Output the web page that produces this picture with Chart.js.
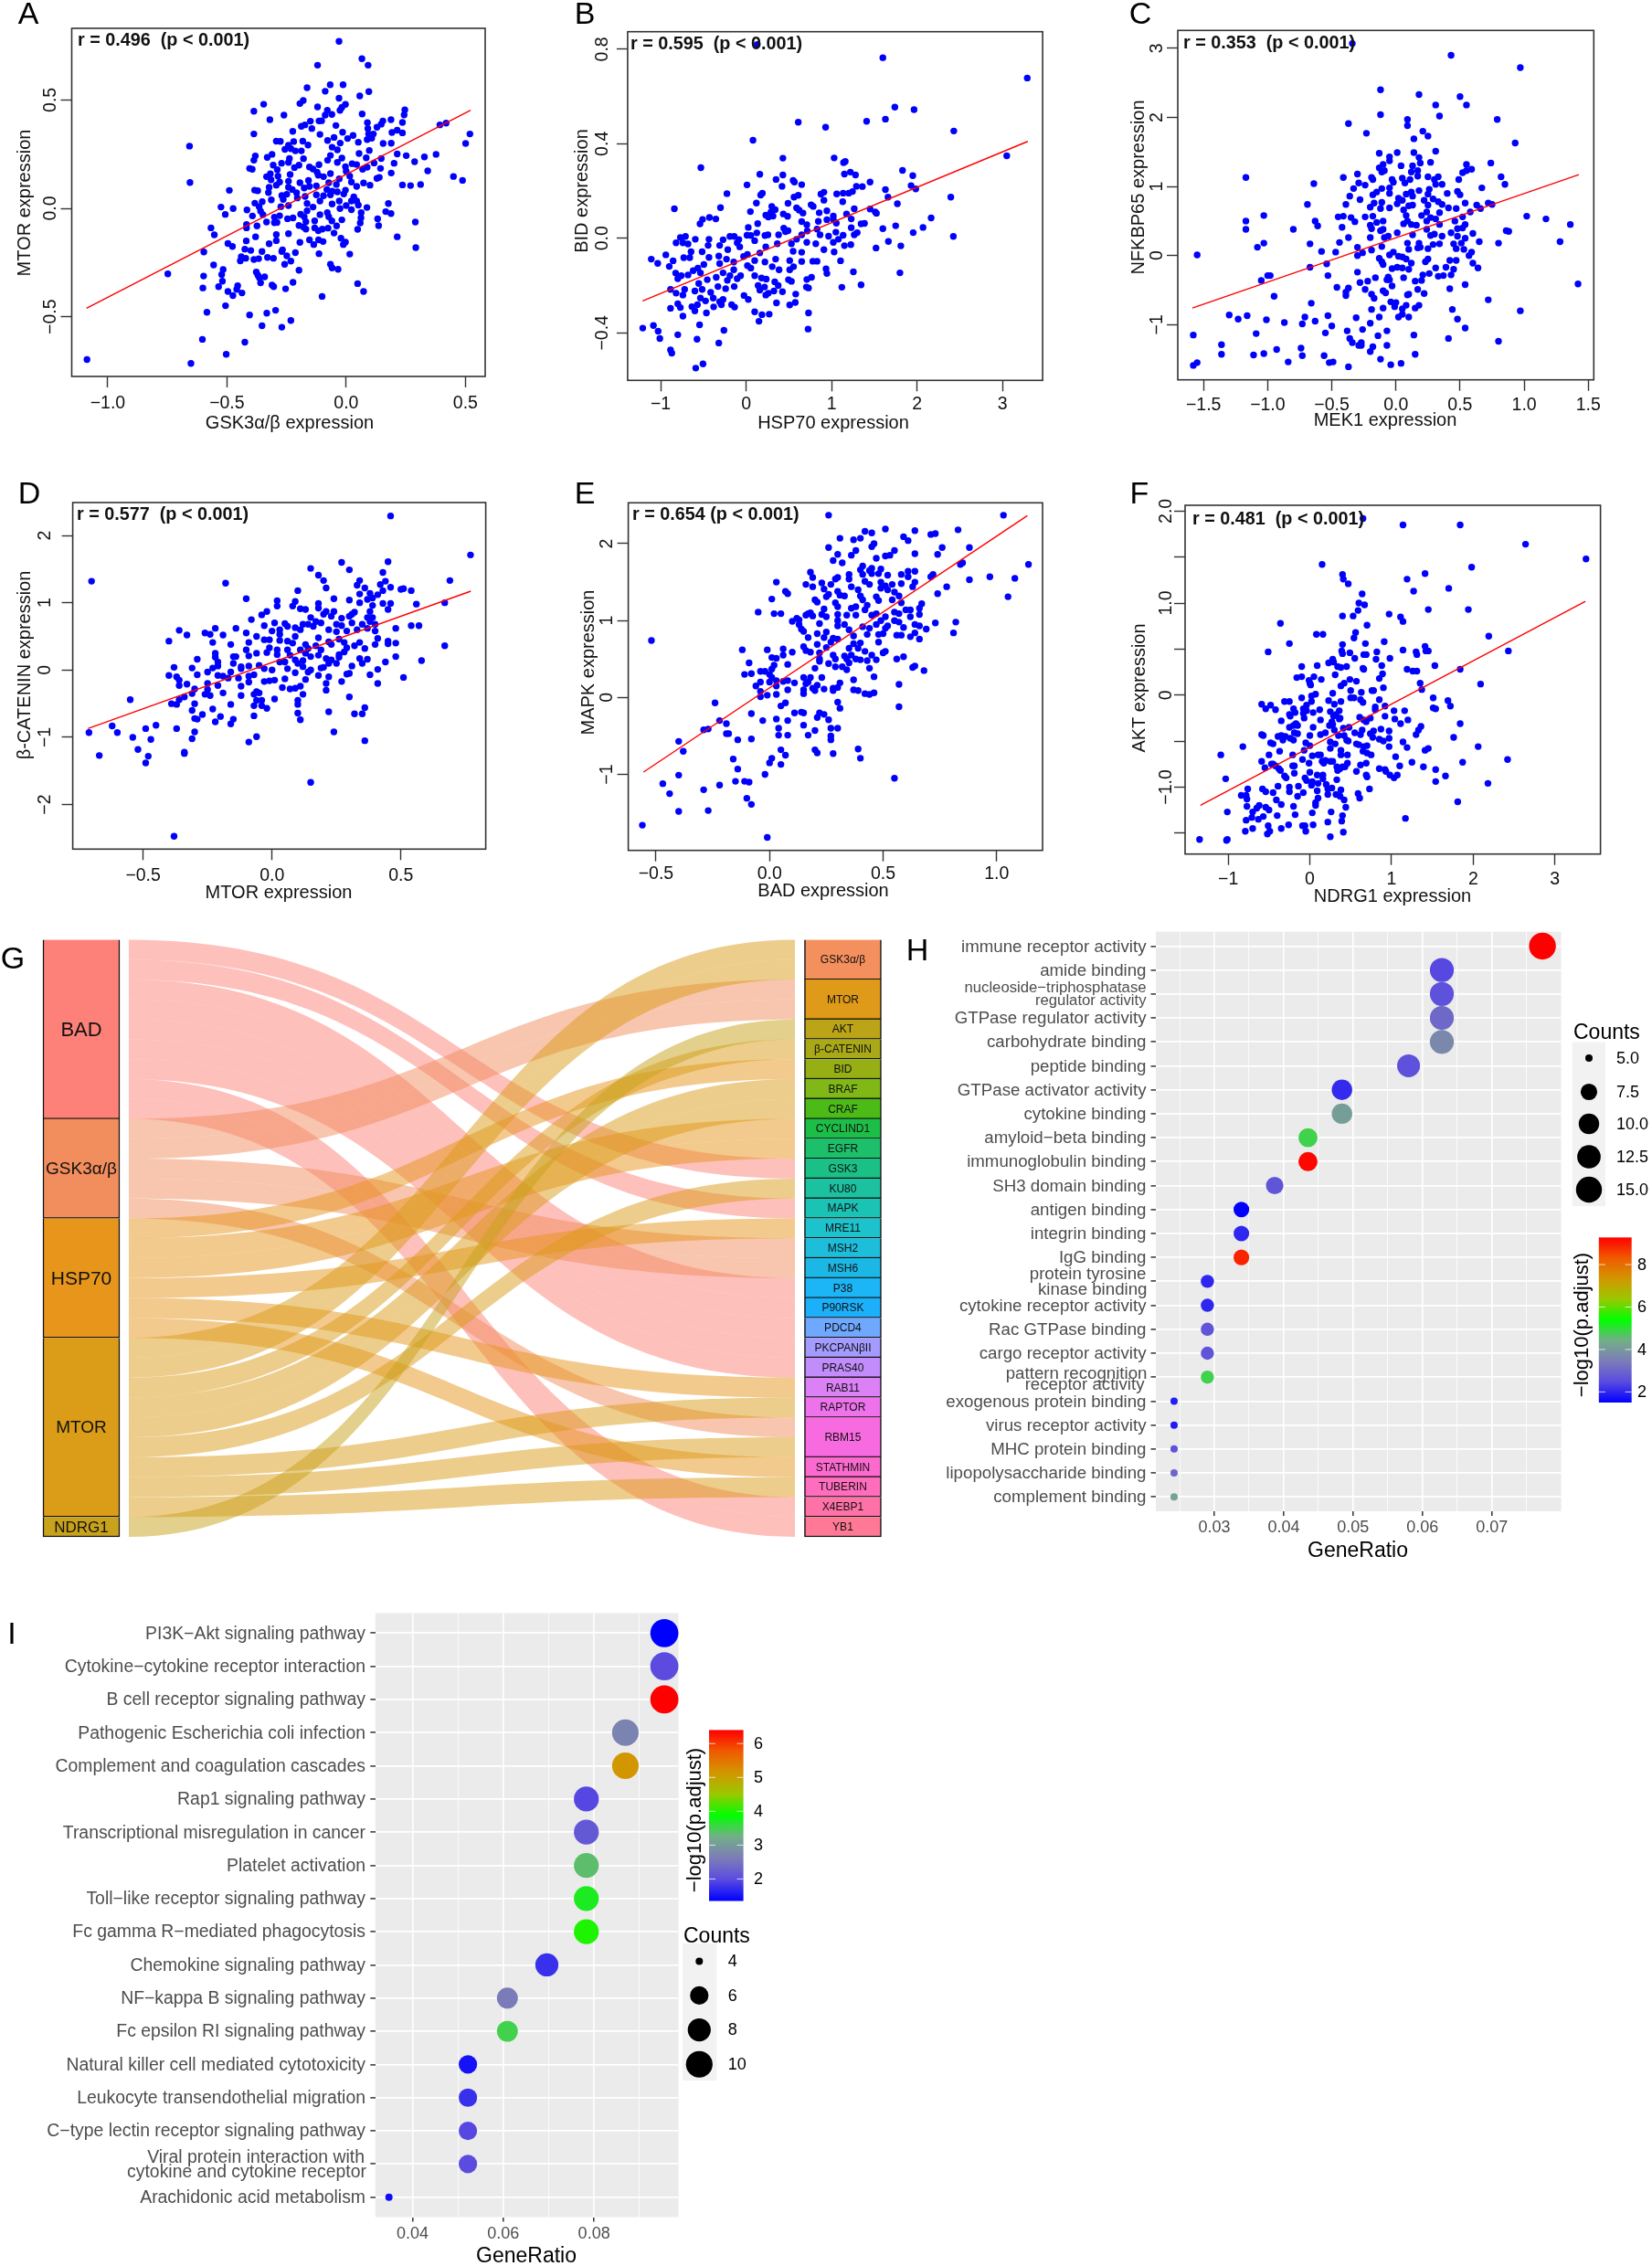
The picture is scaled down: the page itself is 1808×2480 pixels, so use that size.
<!DOCTYPE html>
<html>
<head>
<meta charset="utf-8">
<style>
html,body{margin:0;padding:0;background:#fff}
body{position:relative;width:1808px;height:2480px;overflow:hidden}
canvas{position:absolute}
</style>
<script src="https://cdn.jsdelivr.net/npm/chart.js@4"></script>
</head>
<body>
<script>
const pointsA = [[-.03,.77],[.066,.69],[.092,.66],[-.12,.66],[-.067,.57],[-.013,.57],[-.164,.556],[-.088,.54],[.095,.538],[.057,.518],[-.03,.508],[-.18,.497],[-.194,.483],[-.346,.48],[-.12,.468],[-.003,.479],[-.018,.466],[-.026,.452],[.246,.454],[.243,.431],[-.387,.448],[-.261,.43],[-.079,.452],[-.088,.43],[-.06,.433],[.067,.435],[-.32,.409],[-.15,.402],[-.114,.403],[-.103,.404],[.188,.409],[.154,.403],[.236,.396],[.089,.395],[.393,.385],[.419,.393],[-.188,.378],[-.173,.385],[-.144,.368],[-.043,.382],[.147,.388],[.129,.374],[.091,.368],[-.224,.355],[-.387,.343],[-.11,.341],[-.015,.351],[.519,.343],[.214,.36],[.192,.35],[.236,.348],[.094,.343],[.114,.343],[-.051,.327],[.029,.336],[.006,.322],[.107,.323],[.088,.317],[-.293,.31],[-.276,.309],[-.182,.31],[-.078,.313],[.051,.305],[.155,.299],[.189,.3],[.501,.299],[-.025,.301],[-.657,.287],[-.22,.308],[-.242,.291],[-.16,.292],[-.059,.282],[-.257,.272],[-.232,.275],[-.213,.265],[-.188,.265],[-.037,.27],[.097,.267],[.054,.253],[.214,.251],[.252,.243],[.328,.237],[.377,.249],[-.311,.249],[-.381,.242],[-.066,.244],[-.331,.235],[.084,.233],[.147,.23],[-.179,.229],[-.387,.222],[-.238,.23],[-.242,.212],[-.078,.222],[-.018,.232],[-.037,.212],[.117,.209],[.201,.208],[.287,.215],[.025,.206],[.044,.202],[-.271,.208],[-.306,.199],[-.114,.201],[-.217,.188],[-.198,.199],[-.154,.191],[-.003,.192],[.088,.19],[-.405,.184],[-.394,.18],[.144,.184],[-.289,.178],[-.139,.181],[.069,.18],[-.122,.167],[.342,.173],[.189,.163],[0,.171],[-.066,.16],[-.318,.159],[-.235,.156],[-.334,.146],[-.286,.149],[.45,.147],[-.117,.153],[-.095,.146],[.139,.143],[.015,.149],[-.029,.136],[.129,.138],[-.315,.132],[.488,.129],[-.158,.129],[-.655,.119],[-.242,.125],[.073,.117],[-.194,.118],[-.279,.121],[.022,.121],[-.073,.118],[-.041,.11],[.236,.108],[.27,.105],[.312,.11],[.1,.107],[.044,.101],[-.323,.097],[-.293,.107],[-.242,.097],[-.176,.094],[-.154,.101],[-.125,.104],[-.226,.087],[-.384,.084],[-.371,.081],[-.49,.083],[-.081,.087],[-.059,.079],[-.037,.076],[-.003,.084],[-.326,.073],[-.208,.072],[-.27,.059],[-.249,.065],[-.125,.062],[-.172,.055],[-.01,.066],[.032,.053],[-.095,.058],[-.066,.062],[-.205,.048],[-.314,.039],[-.264,.041],[-.11,.034],[-.352,.031],[.022,.034],[.044,.034],[-.029,.034],[-.383,.024],[-.059,.02],[-.164,.022],[.177,.022],[0,.013],[.051,.015],[-.242,.013],[-.525,.006],[-.365,.008],[-.274,.008],[-.139,.006],[-.474,-.001],[.087,.004],[-.416,-.007],[-.359,-.013],[-.026,-.001],[.022,-.006],[-.164,-.011],[.166,-.015],[.188,-.024],[-.079,-.02],[-.507,-.028],[.063,-.02],[-.191,-.027],[-.11,-.029],[-.393,-.035],[-.349,-.029],[-.279,-.034],[-.301,-.041],[-.176,-.039],[-.073,-.039],[-.246,-.048],[-.223,-.044],[.062,-.044],[.132,-.048],[-.018,-.053],[-.132,-.058],[-.334,-.063],[-.06,-.058],[.29,-.063],[-.301,-.066],[-.169,-.062],[-.29,-.065],[.059,-.067],[-.418,-.074],[-.198,-.079],[-.04,-.081],[-.374,-.081],[.136,-.08],[-.179,-.086],[-.567,-.09],[-.418,-.09],[-.169,-.096],[-.132,-.09],[-.076,-.091],[.048,-.097],[-.1,-.096],[-.117,-.103],[-.051,-.114],[-.242,-.117],[-.553,-.122],[-.293,-.121],[-.38,-.131],[.214,-.131],[-.022,-.138],[-.154,-.145],[-.293,-.149],[-.116,-.145],[-.097,-.153],[-.419,-.15],[-.003,-.156],[-.194,-.157],[-.496,-.162],[-.323,-.163],[-.136,-.167],[-.012,-.167],[-.477,-.176],[.292,-.181],[-.425,-.188],[-.4,-.194],[-.267,-.191],[-.27,-.199],[-.353,-.199],[-.597,-.201],[-.213,-.204],[-.114,-.209],[.015,-.211],[-.249,-.219],[-.33,-.226],[-.44,-.223],[-.367,-.232],[-.305,-.23],[-.421,-.23],[-.387,-.236],[-.444,-.242],[-.232,-.243],[-.258,-.258],[-.556,-.261],[-.066,-.258],[-.059,-.275],[-.034,-.281],[-.516,-.282],[-.198,-.285],[-.377,-.294],[-.522,-.305],[-.748,-.302],[-.598,-.312],[-.37,-.308],[-.342,-.316],[-.364,-.32],[-.519,-.336],[-.359,-.343],[-.223,-.341],[.048,-.347],[-.311,-.354],[-.304,-.361],[-.535,-.361],[-.455,-.357],[-.601,-.367],[-.254,-.371],[-.459,-.374],[-.496,-.383],[.073,-.383],[-.437,-.39],[-.475,-.402],[-.101,-.406],[-.506,-.449],[-.584,-.479],[-.296,-.47],[-.333,-.483],[-.405,-.492],[-.232,-.517],[-.353,-.541],[-.27,-.548],[-.603,-.604],[-.425,-.617],[-.503,-.673],[-1.087,-.697],[-.651,-.715]];
const pointsB = [[.13,.82],[1.6,.764],[3.29,.678],[1.74,.555],[1.965,.544],[1.63,.504],[1.41,.495],[.61,.491],[.93,.47],[2.43,.454],[.08,.415],[1.03,.34],[.43,.339],[3.05,.349],[1.16,.325],[1.14,.32],[-.53,.299],[1.83,.287],[.16,.271],[1.22,.28],[1.28,.268],[1.15,.272],[.43,.268],[1.95,.265],[.35,.249],[.55,.245],[.565,.238],[1.45,.238],[.01,.226],[.42,.22],[.65,.227],[1.29,.22],[1.36,.219],[1.93,.223],[1.985,.209],[1.63,.206],[1.245,.198],[.91,.195],[.875,.187],[1.06,.188],[1.135,.191],[1.2,.191],[-.225,.189],[.19,.191],[.17,.183],[.61,.182],[.56,.174],[1.66,.174],[2.395,.174],[.91,.161],[1.13,.155],[.12,.149],[.49,.148],[1.77,.146],[.76,.142],[.785,.135],[.3,.135],[-.84,.125],[-.3,.13],[.59,.129],[.34,.121],[1.265,.125],[1.45,.124],[.62,.119],[.05,.113],[.29,.111],[.665,.107],[.945,.116],[.855,.108],[1.51,.112],[1.525,.106],[.435,.103],[1.175,.103],[.23,.098],[.315,.094],[.485,.093],[.26,.09],[1.02,.094],[2.165,.086],[-.43,.088],[-.355,.082],[.945,.079],[1.23,.082],[.845,.072],[1.02,.08],[-.51,.08],[-.54,.061],[.65,.071],[.135,.062],[1.055,.064],[1.345,.061],[1.385,.063],[.71,.057],[1.75,.053],[2.07,.046],[.025,.046],[1.6,.041],[1.23,.045],[.44,.043],[.83,.039],[.715,.031],[.49,.032],[.46,.028],[.125,.023],[1.05,.026],[1.3,.024],[1.265,.015],[1.955,.024],[.38,.015],[.255,.015],[.22,.012],[.65,.015],[.865,.015],[1.135,.013],[2.425,.008],[.965,.009],[.01,.013],[.055,.012],[-.19,.008],[-.14,.008],[-.71,.008],[-.77,.003],[-.595,-.004],[-.435,-.004],[-.27,-.006],[-.085,-.005],[1.08,-.004],[1.02,-.017],[1.665,-.013],[.59,-.004],[.365,-.023],[.815,-.023],[.53,-.023],[.71,-.017],[-.82,-.019],[-.74,-.019],[-.68,-.024],[.1,-.01],[-.105,-.019],[-.31,-.03],[-.445,-.03],[1.225,-.027],[1.15,-.031],[1.81,-.032],[1.52,-.041],[.23,-.036],[.91,-.048],[.55,-.055],[.65,-.059],[-.215,-.048],[-.075,-.036],[-.645,-.057],[-.94,-.07],[-.515,-.057],[1.03,-.058],[.16,-.062],[-.03,-.077],[-.32,-.075],[.015,-.068],[-.73,-.082],[-.66,-.082],[-.435,-.081],[-1.11,-.088],[-.23,-.088],[.345,-.088],[-.855,-.095],[-1.035,-.106],[.51,-.094],[.65,-.098],[.78,-.097],[.83,-.097],[1.105,-.095],[.1,-.094],[.22,-.1],[-.145,-.1],[-.31,-.107],[-.495,-.111],[-.9,-.119],[.015,-.116],[.305,-.12],[.555,-.12],[-.565,-.126],[.51,-.133],[.935,-.129],[.385,-.133],[.055,-.126],[-.145,-.133],[-.62,-.137],[-.825,-.147],[1.255,-.142],[1.8,-.146],[.945,-.149],[-.535,-.146],[-.27,-.146],[.1,-.158],[-.68,-.155],[-.19,-.158],[-.065,-.158],[.765,-.165],[-.76,-.158],[-.8,-.171],[-.35,-.165],[.495,-.175],[.53,-.182],[.18,-.168],[.235,-.173],[.71,-.174],[-.455,-.175],[-.22,-.178],[-.105,-.171],[.335,-.184],[-.555,-.191],[1.345,-.197],[.375,-.2],[-.14,-.204],[.705,-.206],[.73,-.21],[1.12,-.207],[.14,-.2],[.215,-.206],[-.33,-.204],[-.24,-.213],[-.885,-.216],[-.72,-.216],[-.515,-.216],[.16,-.219],[-.6,-.223],[.325,-.223],[.425,-.226],[-.82,-.232],[-.74,-.24],[-.415,-.229],[.26,-.232],[.58,-.236],[.23,-.24],[-.025,-.242],[-.535,-.253],[-.385,-.253],[.025,-.259],[-.27,-.259],[-.475,-.265],[-.31,-.268],[.355,-.273],[.575,-.271],[.51,-.282],[-.8,-.277],[-.57,-.281],[-.17,-.281],[-.135,-.291],[-.38,-.29],[-.29,-.281],[-.885,-.296],[-.77,-.293],[-.635,-.289],[-.6,-.307],[.1,-.311],[-.465,-.316],[.73,-.316],[.27,-.321],[.185,-.323],[-.74,-.329],[.15,-.351],[-.545,-.366],[-1.085,-.369],[-1.21,-.38],[.725,-.384],[-.26,-.389],[-1.03,-.393],[-.8,-.408],[-1.01,-.424],[-.575,-.427],[-.32,-.443],[-.885,-.472],[-.87,-.486],[-.505,-.531],[-.59,-.549]];
const pointsC = [[-.34,3.07],[.43,2.9],[.97,2.72],[-.12,2.4],[.18,2.33],[.5,2.3],[.55,2.18],[.31,2.18],[-.12,2.04],[.34,2.02],[.79,1.97],[.09,1.97],[.09,1.88],[-.37,1.91],[.21,1.8],[-.23,1.77],[.25,1.73],[.14,1.69],[.93,1.63],[.31,1.51],[.01,1.49],[.14,1.49],[-.13,1.48],[-.05,1.43],[.18,1.42],[.27,1.35],[-.05,1.37],[.19,1.34],[.74,1.34],[.55,1.32],[-.1,1.32],[.04,1.3],[.13,1.3],[-.13,1.27],[.59,1.25],[.52,1.2],[.55,1.23],[-.09,1.23],[-.11,1.21],[.17,1.23],[.12,1.21],[-.3,1.18],[.17,1.15],[-.19,1.13],[.82,1.14],[.25,1.14],[-1.17,1.13],[-.41,1.13],[.33,1.14],[.05,1.12],[-.18,1.1],[.11,1.1],[.3,1.1],[.49,1.1],[-.03,1.1],[-.64,1.04],[-.29,1.05],[-.24,1.02],[.36,1.03],[.85,1.03],[-.02,1.06],[.07,1.05],[.31,1.03],[.67,.98],[-.33,.97],[-.11,.97],[.26,.96],[-.05,.98],[.48,.93],[.12,.92],[.18,.94],[-.15,.92],[.4,.9],[.5,.88],[-.05,.9],[.08,.89],[.25,.89],[-.36,.86],[-.18,.88],[.13,.86],[-.28,.81],[.02,.83],[.29,.82],[.22,.8],[.05,.8],[.54,.76],[-.11,.77],[.33,.78],[-.69,.74],[.13,.73],[-.39,.74],[.36,.74],[.72,.76],[.75,.74],[.63,.73],[-.2,.7],[.25,.73],[-.17,.76],[.47,.68],[.66,.68],[.41,.69],[-.05,.69],[.01,.75],[.1,.72],[.06,.66],[-.12,.68],[.58,.63],[.34,.62],[.08,.58],[.24,.63],[-.18,.57],[.2,.58],[.52,.56],[-.45,.56],[-.41,.57],[-.35,.55],[-.24,.56],[-.1,.5],[.27,.55],[-.63,.5],[-.32,.49],[-.15,.48],[.31,.53],[.09,.5],[.24,.5],[.46,.5],[.12,.45],[1.02,.57],[1.17,.53],[1.36,.45],[-1.17,.5],[-1.03,.58],[-.61,.43],[-.42,.41],[-.2,.44],[.06,.46],[.16,.44],[.34,.45],[.54,.45],[.48,.39],[.52,.4],[-1.17,.38],[-.8,.38],[.86,.36],[.88,.35],[-.19,.39],[-.12,.36],[-.1,.38],[.24,.38],[.43,.33],[.6,.32],[.01,.33],[.13,.3],[.27,.29],[.36,.28],[.3,.31],[.48,.28],[-.37,.26],[-.2,.26],[-.09,.26],[-.06,.28],[.54,.25],[1.28,.2],[-1.03,.18],[-.67,.17],[-.44,.19],[.65,.2],[.8,.18],[.09,.18],[.18,.18],[.29,.16],[.34,.17],[.45,.17],[.51,.18],[-1.08,.12],[-.3,.12],[-.19,.08],[-.11,.13],[.1,.09],[.17,.11],[.25,.1],[.19,.12],[.47,.1],[.53,.09],[-.58,.06],[-.47,.05],[-.26,.04],[.59,.05],[-.3,0],[-.05,.01],[-.02,.05],[.57,0],[.02,-.01],[.05,-.02],[-1.55,.01],[-.13,-.04],[.42,-.07],[.47,-.07],[.25,-.05],[.08,-.05],[.23,-.09],[-.11,-.09],[.6,-.11],[-.1,-.13],[.12,-.11],[-.54,-.12],[.64,-.18],[-.67,-.17],[-.03,-.19],[.01,-.17],[.05,-.18],[.1,-.2],[.39,-.17],[.31,-.18],[.45,-.2],[-.3,-.24],[-.53,-.29],[-1.0,-.29],[-.98,-.29],[.33,-.3],[.37,-.29],[.43,-.28],[.21,-.28],[.26,-.26],[-.06,-.31],[.06,-.32],[-1.05,-.36],[-.16,-.32],[-.07,-.35],[-.05,-.35],[-.22,-.37],[.15,-.37],[.2,-.36],[-.28,-.39],[-.03,-.44],[.54,-.42],[1.42,-.41],[-.46,-.46],[-.37,-.47],[-.39,-.53],[-.24,-.49],[.17,-.49],[.42,-.48],[-.1,-.51],[-.08,-.54],[.1,-.56],[.22,-.55],[.09,-.57],[-.19,-.56],[-.39,-.58],[-.17,-.62],[-.95,-.59],[.72,-.64],[-.66,-.69],[-.04,-.67],[0,-.68],[-.01,-.74],[.08,-.72],[.18,-.72],[.15,-.76],[-.19,-.78],[-.1,-.76],[.05,-.77],[.44,-.78],[.97,-.8],[-1.3,-.86],[-1.16,-.87],[-.53,-.87],[-.71,-.89],[-.31,-.9],[-.13,-.89],[.02,-.89],[.05,-.85],[.1,-.89],[.48,-.92],[-1.23,-.92],[-1.01,-.93],[-.63,-.95],[-.87,-.97],[-.73,-.99],[-.2,-.98],[-.5,-1.02],[.54,-1.05],[-.26,-1.07],[-.38,-1.09],[-.07,-1.09],[-1.09,-1.13],[-.55,-1.12],[-1.58,-1.15],[-.14,-1.16],[.14,-1.15],[-.36,-1.2],[.41,-1.2],[.8,-1.24],[-.34,-1.26],[-.27,-1.26],[-.29,-1.3],[-1.36,-1.29],[-.27,-1.3],[-.18,-1.32],[-.07,-1.3],[-.74,-1.34],[-.93,-1.36],[-.2,-1.39],[-1.36,-1.43],[-1.03,-1.42],[-1.11,-1.44],[-.73,-1.45],[-.56,-1.45],[.15,-1.43],[-.12,-1.5],[-.84,-1.54],[-.49,-1.54],[-.52,-1.55],[-1.55,-1.55],[-1.58,-1.59],[-.04,-1.58],[.04,-1.56],[-.37,-1.61]];
const pointsD = [[.46,2.29],[.77,1.71],[.27,1.6],[.45,1.61],[.15,1.51],[.3,1.49],[.43,1.45],[.18,1.41],[.2,1.33],[-.7,1.32],[.34,1.33],[.69,1.33],[.44,1.32],[-.18,1.29],[.42,1.27],[.33,1.26],[.36,1.22],[.46,1.23],[.21,1.22],[.5,1.2],[.51,1.21],[.54,1.18],[.43,1.18],[.1,1.18],[.34,1.13],[.38,1.14],[.41,1.12],[.39,1.07],[-.1,1.06],[.24,1.06],[.3,1.04],[.37,1.05],[.02,1.03],[.09,1.02],[.02,.95],[.43,.99],[.46,.99],[.34,1],[.56,.98],[.67,1],[.18,.99],[.08,.95],[.39,.96],[.18,.92],[.11,.91],[.13,.9],[.45,.9],[-.02,.87],[-.04,.82],[.21,.87],[.24,.87],[.2,.83],[.32,.86],[.31,.83],[.38,.87],[.15,.78],[.23,.8],[.3,.8],[.27,.77],[.37,.78],[.39,.78],[.17,.72],[.19,.7],[-.08,.75],[.01,.7],[.05,.69],[.06,.65],[.09,.63],[.12,.68],[.16,.65],[.25,.68],[.27,.66],[.31,.7],[.35,.68],[.38,.72],[.4,.68],[.54,.66],[.57,.66],[-.03,.66],[.11,.6],[-.14,.62],[-.22,.62],[.03,.6],[.14,.68],[.22,.6],[.25,.57],[.29,.58],[.33,.6],[.37,.62],[.4,.58],[.48,.62],[-.36,.59],[-.26,.55],[-.24,.53],[-.19,.52],[-.33,.52],[-.1,.55],[0,.58],[-.06,.5],[.03,.53],[.09,.5],[.18,.48],[.26,.46],[.41,.47],[.45,.43],[-.4,.43],[.03,.44],[-.03,.45],[-.01,.45],[.06,.43],[.08,.4],[.13,.38],[.22,.42],[.28,.41],[.34,.41],[.4,.38],[.48,.4],[.45,.39],[-.23,.41],[-.09,.41],[-.16,.38],[.36,.32],[.67,.36],[.17,.36],[.23,.38],[.32,.36],[.29,.33],[-.01,.33],[.06,.3],[.02,.3],[-.1,.3],[.11,.3],[.14,.32],[.19,.3],[-.02,.26],[-.06,.25],[-.22,.25],[.26,.23],[.28,.27],[-.09,.21],[.02,.23],[.07,.22],[.13,.25],[.18,.22],[.15,.2],[-.22,.19],[-.29,.16],[.48,.2],[.34,.17],[.37,.16],[-.15,.2],[-.14,.2],[.58,.14],[.21,.17],[.23,.15],[.26,.19],[.09,.15],[.12,.14],[.44,.12],[-.21,.12],[-.15,.1],[.03,.12],[.05,.12],[.1,.1],[.25,.1],[.35,.1],[.22,.1],[-.05,.07],[-.21,.06],[-.12,.05],[-.09,.06],[-.23,.03],[-.31,.03],[-.38,.04],[.31,.06],[.12,.05],[.2,.04],[.41,.01],[-.03,.02],[0,0],[.06,.02],[.15,0],[.19,.03],[-.12,.02],[-.25,-.03],[-.16,-.03],[-.29,-.07],[-.4,-.08],[-.21,-.08],[-.19,-.09],[.29,-.06],[.38,-.07],[.3,-.05],[.14,-.03],[.09,-.04],[-.07,-.07],[-.09,-.09],[-.17,-.12],[-.13,-.12],[-.37,-.1],[.18,-.08],[.22,-.1],[.51,-.11],[.05,-.13],[.01,-.15],[.13,-.14],[-.36,-.15],[-.09,-.18],[-.03,-.17],[-.01,-.16],[-.36,-.23],[-.33,-.21],[-.12,-.24],[-.25,-.2],[.27,-.17],[.21,-.2],[.41,-.2],[-.21,-.23],[.11,-.24],[.04,-.26],[.07,-.28],[.09,-.27],[-.3,-.28],[.21,-.3],[-.25,-.29],[-.06,-.32],[-.31,-.35],[-.26,-.36],[-.24,-.38],[-.19,-.34],[-.12,-.38],[.12,-.36],[-.07,-.36],[-.05,-.34],[.3,-.4],[-.34,-.4],[.1,-.45],[-.55,-.44],[-.36,-.44],[-.06,-.45],[.01,-.43],[-.04,-.45],[-.39,-.5],[-.37,-.51],[-.3,-.5],[-.16,-.51],[-.07,-.53],[-.04,-.53],[-.02,-.57],[.1,-.51],[-.31,-.6],[-.23,-.58],[.36,-.56],[.22,-.62],[.1,-.64],[-.27,-.66],[.32,-.65],[.35,-.65],[-.3,-.72],[-.29,-.73],[-.2,-.69],[-.07,-.68],[-.15,-.73],[.11,-.74],[-.22,-.77],[-.62,-.83],[-.16,-.8],[-.45,-.82],[-.49,-.87],[-.37,-.87],[-.71,-.93],[-.6,-.93],[.24,-.92],[-.3,-.92],[-.54,-1],[-.31,-1.02],[-.06,-.99],[-.47,-1.03],[-.09,-1.07],[.36,-1.05],[-.52,-1.18],[-.34,-1.22],[-.34,-1.24],[-.67,-1.27],[-.48,-1.28],[-.49,-1.38],[.15,-1.67],[-.38,-2.47]];
const pointsE = [[.26,2.37],[1.03,2.37],[.51,2.19],[.64,2.17],[.42,2.16],[.83,2.18],[.45,2.14],[.73,2.13],[.71,2.12],[.59,2.09],[.31,2.07],[.4,2.07],[.37,2.05],[.61,2.04],[.46,2],[.45,1.96],[.26,1.95],[.76,1.95],[.88,1.95],[.55,1.91],[.38,1.91],[.3,1.86],[.36,1.85],[.64,1.87],[.74,1.86],[.53,1.85],[.51,1.84],[.47,1.81],[.28,1.78],[.32,1.75],[.85,1.75],[.84,1.73],[1.14,1.73],[.41,1.71],[.45,1.68],[.49,1.67],[.4,1.66],[.44,1.65],[.61,1.64],[.64,1.64],[.18,1.63],[.35,1.6],[.41,1.6],[.45,1.61],[.48,1.61],[.58,1.6],[.72,1.6],[.19,1.56],[.3,1.56],[.52,1.59],[.61,1.57],[.71,1.57],[.29,1.54],[.35,1.54],[.97,1.57],[1.08,1.55],[.03,1.5],[.23,1.49],[.42,1.51],[.88,1.53],[.16,1.47],[.27,1.47],[.49,1.5],[.58,1.48],[.64,1.5],[.19,1.44],[.36,1.44],[.44,1.47],[.54,1.47],[.51,1.45],[.63,1.44],[.78,1.44],[.24,1.41],[.39,1.4],[.49,1.42],[.52,1.4],[.3,1.38],[.07,1.38],[.08,1.35],[.55,1.37],[.74,1.35],[.26,1.34],[.31,1.33],[.33,1.32],[.4,1.32],[.47,1.31],[.57,1.32],[.25,1.31],[1.05,1.31],[.01,1.28],[.2,1.27],[.21,1.24],[.41,1.27],[.48,1.26],[.54,1.27],[.29,1.23],[.58,1.23],[.67,1.22],[.3,1.18],[.43,1.2],[.36,1.16],[.24,1.15],[.38,1.18],[.42,1.14],[.66,1.16],[.62,1.14],[.6,1.14],[-.05,1.11],[.02,1.09],[.05,1.09],[.17,1.09],[.18,1.1],[.23,1.08],[.3,1.08],[.34,1.07],[.38,1.07],[.45,1.07],[.47,1.09],[.55,1.11],[.57,1.09],[.66,1.08],[.16,1.07],[.19,1.06],[.25,1.05],[.51,1.05],[.62,1.05],[.1,.99],[.12,1.03],[.13,1.01],[.3,1],[.49,1],[.55,1],[.57,.98],[.73,.97],[.82,.98],[.13,.95],[.22,.96],[.33,.95],[.3,.93],[.41,.92],[.47,.95],[.52,.93],[.64,.95],[.66,.93],[.69,.89],[.14,.89],[.35,.88],[.44,.9],[.51,.9],[.59,.91],[.25,.85],[.21,.83],[.15,.86],[.37,.8],[.43,.82],[.48,.82],[.5,.83],[.56,.81],[.58,.81],[.62,.79],[.64,.84],[.81,.84],[.17,.78],[.24,.78],[.28,.77],[.3,.76],[.66,.76],[.48,.72],[-.52,.74],[.15,.66],[.21,.69],[.27,.72],[.37,.7],[.4,.71],[-.01,.62],[.06,.63],[.16,.61],[.25,.65],[.35,.64],[.39,.64],[.42,.6],[.5,.58],[.51,.6],[-.12,.62],[.1,.59],[.18,.59],[.06,.55],[.22,.58],[.28,.55],[.33,.54],[.36,.55],[.45,.55],[.01,.52],[.03,.51],[.22,.5],[.29,.5],[.34,.5],[.38,.5],[.4,.49],[.47,.49],[.56,.5],[.59,.53],[-.09,.45],[.08,.43],[.22,.47],[.26,.44],[.32,.4],[.35,.45],[.43,.48],[.64,.41],[.63,.39],[.02,.42],[.01,.37],[-.02,.34],[-.04,.34],[.2,.38],[.29,.4],[.34,.36],[.44,.38],[.68,.35],[-.11,.3],[-.08,.31],[0,.3],[.01,.26],[.15,.26],[.18,.26],[.46,.27],[.23,.26],[-.04,.2],[.03,.22],[.06,.21],[.08,.22],[.11,.19],[.17,.2],[.37,.23],[.16,.18],[.57,.17],[-.06,.15],[0,.2],[.03,.15],[.21,.16],[.31,.19],[.15,.1],[.19,.12],[.2,.09],[.24,.11],[.28,.12],[.3,.13],[.37,.1],[.39,.09],[-.04,.08],[.08,.1],[.28,.09],[.42,.05],[.44,.04],[.46,.06],[-.01,.03],[.03,.04],[.15,.05],[-.04,.01],[.3,-.06],[.07,-.07],[.05,-.11],[.31,-.14],[.57,-.12],[-.24,-.07],[-.08,-.21],[.11,-.2],[.14,-.19],[.15,-.2],[.22,-.2],[.24,-.22],[.21,-.26],[-.22,-.3],[.03,-.28],[.08,-.3],[-.03,-.3],[.26,-.29],[-.19,-.34],[.15,-.36],[-.27,-.41],[-.29,-.42],[.04,-.4],[.27,-.4],[.3,-.4],[.2,-.43],[-.19,-.47],[-.18,-.47],[.08,-.49],[.04,-.49],[.17,-.49],[-.14,-.55],[-.08,-.54],[.27,-.5],[.27,-.55],[-.4,-.57],[-.38,-.7],[.05,-.68],[.2,-.68],[.21,-.72],[.28,-.73],[.39,-.67],[.07,-.75],[.01,-.79],[.4,-.79],[-.16,-.8],[0,-.85],[.05,-.87],[-.14,-.93],[-.4,-1.01],[-.02,-1],[.55,-1.05],[-.47,-1.12],[-.15,-1.09],[-.11,-1.09],[-.09,-1.1],[-.22,-1.14],[-.44,-1.25],[-.29,-1.2],[-.1,-1.31],[-.08,-1.39],[-.27,-1.47],[-.4,-1.48],[-.56,-1.66],[-.01,-1.82]];
const pointsF = [[.65,1.92],[1.14,1.85],[1.84,1.85],[2.64,1.64],[3.38,1.48],[.15,1.42],[1.98,1.39],[.4,1.31],[.41,1.26],[1.41,1.32],[1.19,1.26],[.47,1.21],[1.7,1.16],[1.27,1.13],[.64,1.1],[.6,1],[.67,.98],[1.45,.93],[1.94,.93],[.59,.92],[.4,.86],[.53,.86],[.97,.88],[1.11,.85],[1.14,.8],[-.36,.78],[.7,.76],[.56,.68],[.08,.66],[.16,.66],[2.19,.64],[.54,.62],[.91,.58],[-.25,.56],[.4,.55],[.68,.56],[1.41,.53],[2.43,.48],[-.51,.47],[.39,.48],[.49,.46],[.4,.45],[.66,.44],[.69,.44],[1.14,.49],[1.42,.48],[1.45,.48],[.82,.47],[1.3,.47],[1.31,.44],[.55,.4],[.98,.4],[.81,.39],[.28,.39],[.23,.35],[.88,.32],[.09,.32],[.45,.31],[.29,.36],[.34,.31],[-.1,.31],[.38,.3],[.65,.29],[1.53,.32],[1.19,.28],[1.26,.26],[1.31,.26],[1.84,.28],[.66,.28],[.31,.22],[.89,.23],[-.16,.19],[.05,.2],[-.1,.2],[.85,.18],[.49,.17],[.57,.15],[.14,.17],[-.01,.16],[.42,.13],[.38,.1],[1.35,.13],[.01,.11],[0,.13],[2.09,.12],[.9,.08],[.76,.05],[.78,.05],[.5,.05],[1.37,.06],[.63,.03],[.28,.02],[.07,.01],[.02,-.01],[-.1,-.03],[.5,-.03],[.54,-.03],[1.51,-.03],[.85,-.05],[1.69,-.06],[.62,-.05],[.23,-.06],[.02,-.07],[-.31,-.07],[-.25,-.07],[.38,-.07],[.65,-.08],[-.59,-.1],[-.48,-.11],[-.04,-.11],[.3,-.1],[1.72,-.12],[.8,-.13],[.92,-.12],[-.54,-.15],[-.42,-.16],[-.08,-.15],[-.2,-.15],[-.04,-.17],[.12,-.16],[.8,-.16],[1.51,-.14],[1.54,-.15],[.36,-.17],[-.18,-.19],[.25,-.18],[1.03,-.17],[1.16,-.17],[-.08,-.2],[.04,-.19],[-.25,-.21],[-.24,-.23],[.92,-.23],[.61,-.24],[.74,-.25],[.32,-.21],[.29,-.23],[-.07,-.25],[.36,-.26],[1.04,-.26],[1.2,-.27],[-.35,-.28],[.13,-.27],[.27,-.29],[.66,-.27],[.69,-.29],[.28,-.32],[.37,-.25],[1.11,-.31],[1.84,-.31],[.24,-.33],[-.17,-.31],[-.2,-.33],[1.36,-.34],[-.25,-.35],[-.15,-.33],[.04,-.35],[.41,-.36],[.48,-.35],[.3,-.38],[.87,-.37],[.97,-.39],[1.33,-.38],[1.3,-.43],[.64,-.38],[.78,-.39],[-.19,-.41],[-.15,-.42],[-.59,-.43],[-.57,-.44],[0,-.44],[.13,-.43],[.19,-.41],[.35,-.44],[.42,-.44],[.55,-.41],[.62,-.43],[.74,-.42],[.77,-.46],[-.35,-.44],[-.3,-.45],[1.76,-.46],[-.39,-.45],[-.24,-.47],[.45,-.49],[.85,-.48],[.97,-.47],[-.33,-.49],[-.2,-.49],[.47,-.5],[.9,-.5],[1.14,-.51],[.25,-.51],[.57,-.53],[.6,-.54],[-.48,-.52],[-.45,-.53],[-.05,-.52],[.31,-.53],[.97,-.56],[.66,-.56],[.7,-.55],[1.19,-.57],[2.06,-.56],[-.82,-.56],[0,-.55],[1.45,-.58],[1.41,-.6],[.25,-.58],[.38,-.6],[.65,-.61],[-.37,-.61],[-.07,-.6],[.7,-.63],[-.5,-.65],[-.21,-.65],[.75,-.65],[1.05,-.67],[-1.09,-.65],[.03,-.66],[.1,-.65],[.13,-.65],[.38,-.65],[.46,-.65],[-.09,-.7],[-.59,-.72],[.19,-.71],[.28,-.72],[.15,-.72],[-.47,-.75],[.17,-.74],[.25,-.72],[.69,-.74],[-.01,-.74],[-.45,-.75],[1.25,-.73],[1.87,-.73],[2.42,-.7],[.46,-.74],[.62,-.76],[-.55,-.79],[-.42,-.77],[-.21,-.77],[-.19,-.77],[.33,-.78],[.43,-.78],[.37,-.8],[.4,-.78],[.85,-.8],[.92,-.81],[1.1,-.77],[1.39,-.78],[1.54,-.81],[-.38,-.8],[-.36,-.82],[.57,-.83],[.93,-.83],[.34,-.82],[-.19,-.85],[0,-.84],[.98,-.87],[.69,-.87],[1.03,-.9],[1.07,-.87],[-.31,-.88],[.09,-.87],[.16,-.87],[1.66,-.88],[-1.03,-.91],[-.29,-.9],[-.06,-.9],[.16,-.91],[.33,-.92],[.7,-.89],[-.04,-.93],[.03,-.94],[.1,-.96],[-.14,-.99],[.2,-.97],[1.54,-.94],[.22,-1.02],[-.39,-.99],[-.25,-1],[.02,-.98],[.73,-1.02],[2.18,-.96],[-.58,-1.02],[-.76,-1.02],[-.54,-1.05],[-.25,-1.05],[.27,-1.01],[.09,-1.04],[.38,-1.03],[-.08,-1.06],[-.45,-1.06],[-.84,-1.09],[-.78,-1.09],[.59,-1.07],[.22,-1.08],[.32,-1.08],[-.15,-1.1],[.37,-1.1],[.61,-1.12],[.1,-1.12],[-.41,-1.14],[-.77,-1.13],[1.81,-1.16],[.42,-1.14],[.07,-1.17],[-.35,-1.19],[-.77,-1.21],[-.2,-1.21],[-.62,-1.2],[-.54,-1.22],[-.65,-1.23],[.07,-1.2],[.44,-1.22],[-.5,-1.25],[-.7,-1.27],[-1.01,-1.27],[.26,-1.27],[.03,-1.28],[-.18,-1.3],[-.4,-1.31],[.4,-1.31],[-.57,-1.32],[-.71,-1.33],[-.78,-1.36],[-.63,-1.35],[.39,-1.37],[1.17,-1.34],[.22,-1.38],[-.06,-1.42],[.04,-1.41],[-.26,-1.41],[-.35,-1.45],[-.51,-1.42],[-.7,-1.45],[-.09,-1.42],[-.49,-1.48],[-.79,-1.48],[-.05,-1.48],[.41,-1.49],[-.52,-1.51],[.25,-1.54],[-1.35,-1.57],[-1.01,-1.57],[-1.02,-1.58]];

// fitted lines (two ends each)
const lineA = [[-1.089,-.461],[.522,.452]];
const lineB = [[-1.212,-.265],[3.296,.41]];
const lineC = [[-1.587,-.759],[1.427,1.172]];
const lineD = [[-.714,-.869],[.771,1.172]];
const lineE = [[-.555,-.97],[1.135,2.364]];
const lineF = [[-1.339,-1.199],[3.373,1.02]];

// alluvial panel G
const leftNodes = ['BAD','GSK3α/β','HSP70','MTOR','NDRG1'];
const leftCounts = [9,5,6,9,1];
const rightNodes = ['GSK3α/β','MTOR','AKT','β-CATENIN','BID','BRAF','CRAF','CYCLIND1','EGFR','GSK3','KU80','MAPK','MRE11','MSH2','MSH6','P38','P90RSK','PDCD4','PKCPANβII','PRAS40','RAB11','RAPTOR','RBM15','STATHMIN','TUBERIN','X4EBP1','YB1'];
const rightCounts = [2,2,1,1,1,1,1,1,1,1,1,1,1,1,1,1,1,1,1,1,1,1,2,1,1,1,1];
// right-hand slot reached by each left-hand slot, top to bottom
const flowTargets = [11,13,17,18,19,20,21,28,29, 2,3,15,16,24, 6,9,10,14,22,26, 0,1,5,7,8,12,23,25,27, 4];

// dot plot H
const hTerms = ['immune receptor activity','amide binding',['nucleoside−triphosphatase','regulator activity'],'GTPase regulator activity','carbohydrate binding','peptide binding','GTPase activator activity','cytokine binding','amyloid−beta binding','immunoglobulin binding','SH3 domain binding','antigen binding','integrin binding','IgG binding',['protein tyrosine','kinase binding'],'cytokine receptor activity','Rac GTPase binding','cargo receptor activity',['pattern recognition','receptor activity'],'exogenous protein binding','virus receptor activity','MHC protein binding','lipopolysaccharide binding','complement binding'];
const hRatio = [.0773,.0628,.0628,.0628,.0628,.058,.0484,.0484,.0435,.0435,.0387,.0339,.0339,.0339,.029,.029,.029,.029,.029,.0242,.0242,.0242,.0242,.0242];
const hCounts = [16,13,13,13,13,12,10,10,9,9,8,7,7,7,6,6,6,6,6,5,5,5,5,5];
const hAdjust = [9.28,2.43,2.6,3.05,3.7,2.6,2.05,4.1,4.85,9.2,2.65,1.5,2,8.9,2,2,2.65,2.65,4.85,1.9,1.85,2.6,3,4.2];
const hLegend = [5,7.5,10,12.5,15];
const hLegendLabels = ['5.0','7.5','10.0','12.5','15.0'];
const hBarTicks = [2,4,6,8];

// dot plot I
const iTerms = ['PI3K−Akt signaling pathway','Cytokine−cytokine receptor interaction','B cell receptor signaling pathway','Pathogenic Escherichia coli infection','Complement and coagulation cascades','Rap1 signaling pathway','Transcriptional misregulation in cancer','Platelet activation','Toll−like receptor signaling pathway','Fc gamma R−mediated phagocytosis','Chemokine signaling pathway','NF−kappa B signaling pathway','Fc epsilon RI signaling pathway','Natural killer cell mediated cytotoxicity','Leukocyte transendothelial migration','C−type lectin receptor signaling pathway',['Viral protein interaction with','cytokine and cytokine receptor'],'Arachidonic acid metabolism'];
const iRatio = [.0955,.0955,.0955,.0869,.0869,.0783,.0783,.0783,.0783,.0783,.0696,.0609,.0609,.0522,.0522,.0522,.0522,.0348];
const iCounts = [11,11,11,10,10,9,9,9,9,9,8,7,7,6,6,6,6,4];
const iAdjust = [1.35,2,6.4,2.7,5.14,1.95,2.15,3.37,3.72,4,1.75,2.6,3.52,1.5,1.75,1.95,2,1.45];
const iLegend = [4,6,8,10];
const iBarTicks = [2,3,4,5,6];

const SANS = '"Liberation Sans", Arial, sans-serif';
Chart.defaults.font.family = SANS;
Chart.defaults.animation = false;
Chart.defaults.responsive = false;
Chart.defaults.events = [];
Chart.defaults.plugins.legend.display = false;
Chart.defaults.plugins.tooltip.enabled = false;

function addCanvas(r) {
  const c = document.createElement('canvas');
  c.width = r[2]; c.height = r[3];
  c.style.left = r[0] + 'px'; c.style.top = r[1] + 'px';
  c.style.width = r[2] + 'px'; c.style.height = r[3] + 'px';
  document.body.appendChild(c);
  return c;
}

function text(ctx, str, x, y, size, opt) {
  opt = opt || {};
  ctx.save();
  ctx.translate(x, y);
  if (opt.rot) ctx.rotate(opt.rot);
  ctx.font = (opt.bold ? 'bold ' : '') + size + 'px ' + SANS;
  ctx.fillStyle = opt.color || '#000';
  ctx.textAlign = opt.align || 'center';
  ctx.textBaseline = 'middle';
  // 'middle' sits a little above the cap centre
  ctx.fillText(str, 0, size * .05);
  ctx.restore();
}

// scale boxes are forced to a known size so the chart area lands on the panel box
const fixedFit = function (size) {
  return s => {
    if (s.isHorizontal()) s.height = size; else s.width = size;
    s.paddingLeft = s.paddingRight = s.paddingTop = s.paddingBottom = 0;
  };
};

// ---- scatter panels
function scatterPanel(p) {
  const box = p.box;
  const cv = addCanvas(p.area);
  const below = p.area[1] + p.area[3] - box[3];
  new Chart(cv, {
    type: 'scatter',
    data: { datasets: [
      { type: 'line', data: p.line.map(d => ({x: d[0], y: d[1]})), borderColor: '#ff0000', borderWidth: 1.4, pointRadius: 0, fill: false },
      { data: p.points.map(d => ({x: d[0], y: d[1]})), pointRadius: 3.7, pointBackgroundColor: '#0000ff', pointBorderWidth: 0 }
    ] },
    options: {
      layout: { padding: { left: box[0] - p.area[0], top: box[1] - p.area[1], right: p.area[0] + p.area[2] - box[2], bottom: 0 } },
      scales: {
        x: { type: 'linear', min: p.xr[0], max: p.xr[1],
          afterBuildTicks: s => { s.ticks = p.xt.map(v => ({value: v})); },
          afterFit: fixedFit(below),
          border: { display: false },
          grid: { drawOnChartArea: false, drawTicks: true, tickLength: 12, tickWidth: 1.4, tickColor: '#333' },
          ticks: { autoSkip: false, maxRotation: 0, minRotation: 0, color: '#111', font: { size: 19.5 }, padding: p.xPad,
            callback: (v, i) => p.xl[i] }
        },
        y: { type: 'linear', min: p.yr[0], max: p.yr[1],
          afterBuildTicks: s => { s.ticks = p.yt.map(v => ({value: v})); },
          afterFit: fixedFit(0),
          border: { display: false },
          grid: { drawOnChartArea: false, drawTicks: true, tickLength: 12, tickWidth: 1.4, tickColor: '#333' },
          ticks: { display: false }
        }
      }
    },
    plugins: [{
      id: 'panelText',
      afterDraw(chart) {
        const c = chart.ctx, a = chart.chartArea;
        c.save();
        c.strokeStyle = '#333'; c.lineWidth = 1.6;
        c.strokeRect(a.left, a.top, a.right - a.left, a.bottom - a.top);
        c.translate(-p.area[0], -p.area[1]);
        p.yl.forEach((lab, i) => {
          if (lab === '') return;
          const y = chart.scales.y.getPixelForValue(p.yt[i]) + p.area[1];
          text(c, lab, p.yTickX, y, 19.5, { rot: -Math.PI / 2, color: '#111' });
        });
        text(c, p.xTitle, p.xTitlePos[0], p.xTitlePos[1], 20, { color: '#111' });
        text(c, p.yTitle, p.yTitlePos[0], p.yTitlePos[1], 20, { rot: -Math.PI / 2, color: '#111' });
        text(c, p.r, p.rPos[0], p.rPos[1], 19.8, { bold: true, align: 'left', color: '#111' });
        text(c, p.letter, p.letterPos[0], p.letterPos[1], 34, { color: '#000' });
        c.restore();
      }
    }]
  });
}

scatterPanel({ letter: 'A', letterPos: [31, 15], area: [0, 0, 600, 505], box: [78.5, 31, 531, 412], points: pointsA, line: lineA,
  xr: [-1.151, .583], yr: [-.775, .83], xt: [-1, -.5, 0, .5], xl: ['−1.0', '−0.5', '0.0', '0.5'], yt: [-.5, 0, .5], yl: ['−0.5', '0.0', '0.5'],
  xPad: 5.5, yTickX: 55, xTitle: 'GSK3α/β expression', xTitlePos: [317, 462], yTitle: 'MTOR expression', yTitlePos: [26, 222], r: 'r = 0.496  (p < 0.001)', rPos: [85, 44] });
scatterPanel({ letter: 'B', letterPos: [640, 15], area: [600, 0, 605, 505], box: [686.9, 34.7, 1141.1, 416.3], points: pointsB, line: lineB,
  xr: [-1.387, 3.47], yr: [-.601, .874], xt: [-1, 0, 1, 2, 3], xl: ['−1', '0', '1', '2', '3'], yt: [-.4, 0, .4, .8], yl: ['−0.4', '0.0', '0.4', '0.8'],
  xPad: 2.2, yTickX: 659, xTitle: 'HSP70 expression', xTitlePos: [912, 462], yTitle: 'BID expression', yTitlePos: [636, 209], r: 'r = 0.595  (p < 0.001)', rPos: [690, 48] });
scatterPanel({ letter: 'C', letterPos: [1248, 15], area: [1205, 0, 603, 505], box: [1289, 33.3, 1744.3, 415.7], points: pointsC, line: lineC,
  xr: [-1.701, 1.543], yr: [-1.799, 3.259], xt: [-1.5, -1, -.5, 0, .5, 1, 1.5], xl: ['−1.5', '−1.0', '−0.5', '0.0', '0.5', '1.0', '1.5'], yt: [-1, 0, 1, 2, 3], yl: ['−1', '0', '1', '2', '3'],
  xPad: 3.8, yTickX: 1266, xTitle: 'MEK1 expression', xTitlePos: [1516, 459], yTitle: 'NFKBP65 expression', yTitlePos: [1245, 205], r: 'r = 0.353  (p < 0.001)', rPos: [1295, 47] });
scatterPanel({ letter: 'D', letterPos: [32, 540], area: [0, 505, 600, 510], box: [79.6, 550, 531.6, 929.3], points: pointsD, line: lineD,
  xr: [-.773, .829], yr: [-2.661, 2.489], xt: [-.5, 0, .5], xl: ['−0.5', '0.0', '0.5'], yt: [-2, -1, 0, 1, 2], yl: ['−2', '−1', '0', '1', '2'],
  xPad: 5.9, yTickX: 49, xTitle: 'MTOR expression', xTitlePos: [305, 976], yTitle: 'β-CATENIN expression', yTitlePos: [26, 728], r: 'r = 0.577  (p < 0.001)', rPos: [84, 563] });
scatterPanel({ letter: 'E', letterPos: [640, 540], area: [600, 505, 605, 510], box: [687.6, 550.3, 1141, 930.7], points: pointsE, line: lineE,
  xr: [-.622, 1.202], yr: [-1.988, 2.531], xt: [-.5, 0, .5, 1], xl: ['−0.5', '0.0', '0.5', '1.0'], yt: [-1, 0, 1, 2], yl: ['−1', '0', '1', '2'],
  xPad: 1.8, yTickX: 664, xTitle: 'BAD expression', xTitlePos: [901, 974], yTitle: 'MAPK expression', yTitlePos: [643, 725], r: 'r = 0.654 (p < 0.001)', rPos: [692, 563] });
scatterPanel({ letter: 'F', letterPos: [1247, 540], area: [1205, 505, 603, 510], box: [1297, 553, 1751.6, 934.7], points: pointsF, line: lineF,
  xr: [-1.527, 3.557], yr: [-1.728, 2.063], xt: [-1, 0, 1, 2, 3], xl: ['−1', '0', '1', '2', '3'], yt: [-1.5, -1, -.5, 0, .5, 1, 1.5, 2], yl: ['', '−1.0', '', '0', '', '1.0', '', '2.0'],
  xPad: 3.8, yTickX: 1276, xTitle: 'NDRG1 expression', xTitlePos: [1524, 980], yTitle: 'AKT expression', yTitlePos: [1246, 753], r: 'r = 0.481  (p < 0.001)', rPos: [1305, 568] });

// ---- alluvial panel
const leftColors = ['#fd8178','#f28d5d','#e7961b','#db9c18','#c8a21a'];
const rightColors = ['#f48f5e','#de9a18','#bba417','#a9a816','#95af15','#7fb817','#4cbb17','#1dbe48','#1dbf6b','#1bc086','#1cc2a0','#1bc3b4','#1cc3cc','#1cbedb','#1cb8e5','#1cb5f5','#1db0fa','#6fa8ff','#a49bff','#c28cfb','#db80f5','#ed72ec','#f76ae0','#fc6ad0','#ff6dbe','#ff72a8','#ff7895'];
const leftSizes = [22, 19, 21, 19, 17];

function stack(counts) {
  let s = 0;
  return counts.map(n => { const r = [s, s + n]; s += n; return r; });
}

(function () {
  const area = [0, 1015, 985, 680];
  const plot = [47, 1028.5, 964, 1682];
  const xLeft = .0458, xRight = .9547, flowStart = .1025, flowEnd = .8975;
  const lStack = stack(leftCounts), rStack = stack(rightCounts);
  const nodeData = lStack.map(r => ({x: xLeft, y: r})).concat(rStack.map(r => ({x: xRight, y: r})));
  const slotSource = [];
  leftCounts.forEach((n, i) => { for (let k = 0; k < n; k++) slotSource.push(i); });

  new Chart(addCanvas(area), {
    type: 'bar',
    data: { datasets: [{ data: nodeData, backgroundColor: leftColors.concat(rightColors), borderColor: '#111', borderWidth: 1.5, barThickness: 84, grouped: false, clip: false }] },
    options: {
      layout: { padding: { left: plot[0] - area[0], top: plot[1] - area[1], right: area[0] + area[2] - plot[2], bottom: area[1] + area[3] - plot[3] } },
      scales: {
        x: { type: 'linear', min: 0, max: 1, display: false, offset: false },
        y: { type: 'linear', min: 0, max: 30, reverse: true, display: false }
      }
    },
    plugins: [{
      id: 'ribbons',
      beforeDatasetsDraw(chart) {
        const c = chart.ctx, X = chart.scales.x, Y = chart.scales.y;
        const x0 = X.getPixelForValue(flowStart), x1 = X.getPixelForValue(flowEnd), mid = (x0 + x1) / 2;
        flowTargets.forEach((t, i) => {
          const a0 = Y.getPixelForValue(i), a1 = Y.getPixelForValue(i + 1);
          const b0 = Y.getPixelForValue(t), b1 = Y.getPixelForValue(t + 1);
          c.beginPath();
          c.moveTo(x0, a0);
          c.bezierCurveTo(mid, a0, mid, b0, x1, b0);
          c.lineTo(x1, b1);
          c.bezierCurveTo(mid, b1, mid, a1, x0, a1);
          c.closePath();
          c.globalAlpha = .5;
          c.fillStyle = leftColors[slotSource[i]];
          c.fill();
        });
        c.globalAlpha = 1;
      },
      afterDraw(chart) {
        const c = chart.ctx, X = chart.scales.x, Y = chart.scales.y;
        leftNodes.forEach((n, i) => {
          text(c, n, X.getPixelForValue(xLeft), Y.getPixelForValue((lStack[i][0] + lStack[i][1]) / 2), leftSizes[i], { color: '#111' });
        });
        rightNodes.forEach((n, i) => {
          text(c, n, X.getPixelForValue(xRight), Y.getPixelForValue((rStack[i][0] + rStack[i][1]) / 2), 12, { color: '#111' });
        });
        text(c, 'G', 14, 1049 - area[1], 34);
      }
    }]
  });
})();

// ---- dot plots
const rampStops = ['#0000ff','#5a4be0','#7c7cb8','#73ae88','#00ff00','#9ac800','#d29600','#f05a00','#ff0000'];

function hexRgb(h) { return [1, 3, 5].map(i => parseInt(h.substr(i, 2), 16)); }
function rampColor(v, lo, hi) {
  const t = Math.min(1, Math.max(0, (v - lo) / (hi - lo))) * (rampStops.length - 1);
  const i = Math.min(rampStops.length - 2, Math.floor(t)), f = t - i;
  const a = hexRgb(rampStops[i]), b = hexRgb(rampStops[i + 1]);
  return 'rgb(' + a.map((q, k) => Math.round(q + (b[k] - q) * f)).join(',') + ')';
}

function dotPanel(p) {
  const area = p.area, box = p.box;
  const rows = p.terms.map((t, i) => i);
  const below = area[1] + area[3] - box[3];
  new Chart(addCanvas(area), {
    type: 'scatter',
    data: { datasets: [{
      data: p.ratio.map((v, i) => ({x: v, y: i})),
      pointRadius: ctx => p.size(p.counts[ctx.dataIndex]),
      pointBackgroundColor: ctx => rampColor(p.adjust[ctx.dataIndex], p.range[0], p.range[1]),
      pointBorderWidth: 0, clip: false
    }] },
    options: {
      layout: { padding: { left: box[0] - area[0], top: box[1] - area[1], right: area[0] + area[2] - box[2], bottom: 0 } },
      scales: {
        x: { type: 'linear', min: p.xr[0], max: p.xr[1],
          afterBuildTicks: s => { s.ticks = p.xGrid.map(v => ({value: v})); },
          afterFit: fixedFit(below),
          border: { display: false },
          grid: { color: '#fff', lineWidth: ctx => (ctx.index % 2 === p.majorOdd ? 1.6 : .8), drawTicks: true, tickLength: 5, tickWidth: 1.5,
            tickColor: ctx => (ctx.index % 2 === p.majorOdd ? '#333' : 'rgba(0,0,0,0)') },
          ticks: { autoSkip: false, maxRotation: 0, minRotation: 0, color: '#4d4d4d', font: { size: 18 }, padding: p.xPad,
            callback: (v, i) => (i % 2 === p.majorOdd ? v.toFixed(2) : '') }
        },
        y: { type: 'linear', min: -.6, max: p.terms.length - .4, reverse: true,
          afterBuildTicks: s => { s.ticks = rows.map(v => ({value: v})); },
          afterFit: fixedFit(0),
          border: { display: false },
          grid: { color: '#fff', lineWidth: 1.8, drawTicks: true, tickLength: 5.5, tickWidth: 1.5, tickColor: '#333' },
          ticks: { display: false }
        }
      }
    },
    plugins: [{
      id: 'panelBack',
      beforeDraw(chart) {
        const a = chart.chartArea, c = chart.ctx;
        c.fillStyle = '#ebebeb';
        c.fillRect(a.left, a.top, a.right - a.left, a.bottom - a.top);
      },
      afterDraw(chart) {
        const c = chart.ctx;
        c.save();
        c.translate(-area[0], -area[1]);
        p.terms.forEach((t, i) => {
          const y = chart.scales.y.getPixelForValue(i) + area[1];
          if (Array.isArray(t)) {
            const st = p.twoLine[i];
            text(c, t[0], p.labelX + (st.dx0 || 0), y - st.gap / 2 + (st.dy || 0), st.size, { align: 'right', color: '#4d4d4d' });
            text(c, t[1], p.labelX + (st.dx1 || 0), y + st.gap / 2 + (st.dy || 0), st.size, { align: 'right', color: '#4d4d4d' });
          } else {
            text(c, t, p.labelX, y, p.labelSize, { align: 'right', color: '#4d4d4d' });
          }
        });
        text(c, 'GeneRatio', p.xTitle[0], p.xTitle[1], 23);
        text(c, p.letter, p.letterPos[0], p.letterPos[1], 34);

        // size legend
        const lg = p.legend;
        text(c, 'Counts', lg.title[0], lg.title[1], 23, { align: 'left' });
        c.fillStyle = '#f2f2f2';
        c.fillRect(lg.key[0], lg.key[1], lg.key[2], lg.key[3]);
        p.legendValues.forEach((v, i) => {
          c.beginPath();
          c.fillStyle = '#000';
          c.arc(lg.x, lg.ys[i], p.size(v), 0, Math.PI * 2);
          c.fill();
          text(c, p.legendLabels[i], lg.textX, lg.ys[i], 18, { align: 'left' });
        });

        // colour bar
        const b = p.bar, h = b.rect[3];
        const grad = c.createLinearGradient(0, b.rect[1] + h, 0, b.rect[1]);
        rampStops.forEach((s, i) => grad.addColorStop(i / (rampStops.length - 1), s));
        c.fillStyle = grad;
        c.fillRect(b.rect[0], b.rect[1], b.rect[2], h);
        p.barTicks.forEach(v => {
          const y = b.rect[1] + h - (v - p.range[0]) / (p.range[1] - p.range[0]) * h;
          c.strokeStyle = 'rgba(255,255,255,.75)';
          c.lineWidth = 1;
          c.beginPath();
          c.moveTo(b.rect[0], y); c.lineTo(b.rect[0] + 7, y);
          c.moveTo(b.rect[0] + b.rect[2] - 7, y); c.lineTo(b.rect[0] + b.rect[2], y);
          c.stroke();
          text(c, String(v), b.textX, y, 18);
        });
        text(c, '−log10(p.adjust)', b.title[0], b.title[1], 22, { rot: -Math.PI / 2 });
        c.restore();
      }
    }]
  });
}

dotPanel({ letter: 'H', letterPos: [1004, 1040], area: [985, 1005, 823, 720], box: [1265, 1016.7, 1708.6, 1654],
  terms: hTerms, ratio: hRatio, counts: hCounts, adjust: hAdjust, range: [1.5, 9.28],
  size: c => 4 + 10.7 * Math.sqrt((c - 5) / 11),
  xr: [.02157, .08], xGrid: [.025, .03, .035, .04, .045, .05, .055, .06, .065, .07, .075], majorOdd: 1, xPad: 2.7,
  labelX: 1254.5, labelSize: 18.7, xTitle: [1486, 1697],
  twoLine: { 2: { size: 16.7, gap: 14.3 }, 14: { size: 18.7, gap: 16.7, dx1: 1 }, 18: { size: 18.7, gap: 12.3, dy: 2, dx0: 1, dx1: -2 } },
  legendValues: hLegend, legendLabels: hLegendLabels,
  legend: { title: [1722, 1130], key: [1720.8, 1140.7, 36.2, 179.3], x: 1739, ys: [1158, 1195, 1230, 1266, 1302], textX: 1769 },
  barTicks: hBarTicks, bar: { rect: [1749.8, 1354.3, 35.9, 180.7], textX: 1797, title: [1731, 1450] } });

dotPanel({ letter: 'I', letterPos: [13, 1788], area: [0, 1740, 850, 740], box: [410.8, 1765.5, 742.5, 2426.5],
  terms: iTerms, ratio: iRatio, counts: iCounts, adjust: iAdjust, range: [1.35, 6.4],
  size: c => 4 + 11.4 * Math.sqrt((c - 4) / 7),
  xr: [.0318, .0986], xGrid: [.04, .05, .06, .07, .08, .09], majorOdd: 0, xPad: 3,
  labelX: 400, labelSize: 19.4, xTitle: [576, 2469],
  twoLine: { 16: { size: 19.4, gap: 15.8, dx0: -1, dx1: 1 } },
  legendValues: iLegend, legendLabels: iLegend.map(String),
  legend: { title: [748, 2119], key: [747, 2127, 37.3, 150], x: 765.3, ys: [2146.6, 2183.9, 2221.6, 2259.3], textX: 796.7 },
  barTicks: iBarTicks, bar: { rect: [776, 1893.4, 37.6, 187.1], textX: 830, title: [760, 1992] } });
</script>
</body>
</html>
